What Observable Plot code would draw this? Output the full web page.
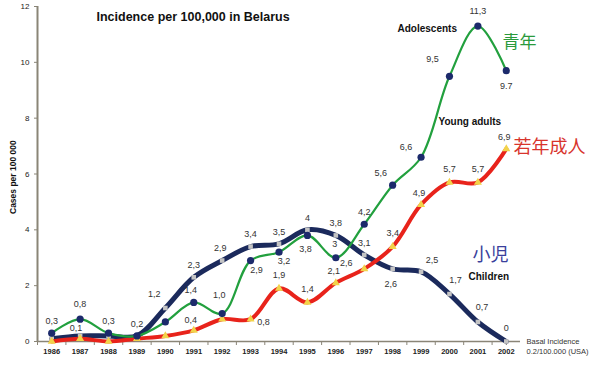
<!DOCTYPE html>
<html><head><meta charset="utf-8">
<script src="https://cdn.jsdelivr.net/npm/d3@7"></script>
<script src="https://cdn.jsdelivr.net/npm/@observablehq/plot@0.6"></script>
<style>
body{margin:0;background:#fff;}
#chart svg{display:block;font-family:"Liberation Sans",Arial,sans-serif;}
</style></head><body><div id="chart"></div>
<script>
// ---- data ----
const years = [1986,1987,1988,1989,1990,1991,1992,1993,1994,1995,1996,1997,1998,1999,2000,2001,2002];
const children    = [0.1,0.2,0.2,0.2,1.2,2.3,2.9,3.4,3.5,4.0,3.8,3.1,2.6,2.5,1.7,0.7,0.0];
const adolescents = [0.3,0.8,0.3,0.2,0.7,1.4,1.0,2.9,3.2,3.8,3.0,4.2,5.6,6.6,9.5,11.3,9.7];
const youngAdults = [0.0,0.1,0.0,0.1,0.2,0.4,0.8,0.8,1.9,1.4,2.1,2.6,3.4,4.9,5.7,5.7,6.9];
const childLabels = [null,null,null,null,"1,2","2,3","2,9","3,4","3,5","4","3,8","3,1","2,6","2,5","1,7","0,7","0"];
const adolLabels  = ["0,3","0,8","0,3","0,2",null,"1,4","1,0","2,9","3,2","3,8","3","4,2","5,6","6,6","9,5","11,3","9.7"];
const youngLabels = [null,"0,1",null,null,null,"0,4",null,"0,8","1,9","1,4","2,1","2,6","3,4","4,9","5,7","5,7","6,9"];
const yTicks = [0,2,4,6,8,10,12];
const title = "Incidence per 100,000 in Belarus";
const yLabel = "Cases per 100 000";

// ---- layout (label offsets in px, [dx, dy]) ----
const childOff = [null,null,null,null,[-11,-14],[0,-12],[-2,-12],[0,-12],[0,-12],[0,-12],[0,-12],[0,-12],[-2,15],[11,-12],[6,-14],[4,-15],[0,-13]];
const adolOff  = [[0,-12],[0,-15],[0,-12],[0,-12],null,[-3,-12],[-3,-18],[6,10],[5,9],[-2,14],[-1,-14],[0,-12],[-12,-12],[-15,-10],[-17,-17],[0,-15],[0,15]];
const youngOff = [null,[-4,-11],null,null,null,[-3,-10],null,[13,3],[0,-13],[0,-13],[-2,-12],[-18,-6],[0,-13],[-2,-12],[0,-13],[0,-13],[-2,-12]];

const table = (vals, labels) => years.map((year, i) => ({year, value: vals[i], label: labels[i], i}));
const cRows = table(children, childLabels);
const aRows = table(adolescents, adolLabels);
const yRows = table(youngAdults, youngLabels);

const labelMarks = (rows, offs) => rows.filter(d => d.label != null).map(d =>
  Plot.text([d], {x: "year", y: "value", text: "label", dx: offs[d.i][0], dy: offs[d.i][1],
    fontSize: 9, fill: "#333"}));

const ML = 37, MT = 6;
const note = (text, x, y, opts = {}) => Plot.text([text], {frameAnchor: "top-left", text: d => d,
  dx: x - ML, dy: y - MT, textAnchor: "start", lineAnchor: "middle", ...opts});

const AX = "#8a8577";
const plot = Plot.plot({
  width: 600, height: 368,
  marginLeft: ML, marginRight: 80, marginTop: MT, marginBottom: 27,
  x: {type: "linear", domain: [1985.5, 2002.5]},
  y: {domain: [0, 12]},
  marks: [
    Plot.axisY({ticks: yTicks, tickSize: 3, tickPadding: 5, label: null, fontSize: 8, stroke: AX, color: "#222"}),
    Plot.axisX({ticks: years, tickSize: 0, tickPadding: 7, tickFormat: d => String(d), label: null, fontSize: 7.5, fontWeight: "bold", color: "#222"}),
    Plot.axisX({ticks: years.concat([2002.5]).map(y => y - 0.5), tickSize: 4, tickFormat: () => "", label: null, stroke: AX}),
    Plot.ruleX([1985.5], {stroke: AX, strokeWidth: 2}),
    Plot.ruleY([0], {stroke: AX, strokeWidth: 1.5}),
    // children
    Plot.line(cRows, {x: "year", y: "value", stroke: "#1b2a5c", strokeWidth: 5, curve: "catmull-rom"}),
    Plot.dot(cRows, {x: "year", y: "value", symbol: "square", r: 2.6, fill: "#c4c4c4", stroke: "none"}),
    // young adults
    Plot.line(yRows, {x: "year", y: "value", stroke: "#e8231b", strokeWidth: 4, curve: "catmull-rom"}),
    Plot.dot(yRows, {x: "year", y: "value", symbol: "triangle", r: 3, fill: "#f2d34a", stroke: "none"}),
    // adolescents
    Plot.line(aRows, {x: "year", y: "value", stroke: "#22a03e", strokeWidth: 2.2, curve: "catmull-rom"}),
    Plot.dot(aRows, {x: "year", y: "value", r: 3.6, fill: "#1c2a6b", stroke: "none"}),
    ...labelMarks(cRows, childOff),
    ...labelMarks(aRows, adolOff),
    ...labelMarks(yRows, youngOff),
    // annotations
    note(title, 96, 16, {fontSize: 12.5, fontWeight: "bold", fill: "#111"}),
    note("Adolescents", 397, 28, {fontSize: 10, fontWeight: "bold", fill: "#111"}),
    note("青年", 502, 42, {fontSize: 17, fill: "#2a9a3c", fontFamily: "Noto Sans CJK JP"}),
    note("Young adults", 438, 121, {fontSize: 10, fontWeight: "bold", fill: "#111"}),
    note("若年成人", 513, 147, {fontSize: 18, fill: "#d8342c", fontFamily: "Noto Sans CJK JP"}),
    note("小児", 472, 255, {fontSize: 18, fill: "#3a3f9c", fontFamily: "Noto Sans CJK JP"}),
    note("Children", 468, 276, {fontSize: 10, fontWeight: "bold", fill: "#111"}),
    note("Basal Incidence", 526, 341, {fontSize: 7.5, fill: "#333"}),
    note("0.2/100.000 (USA)", 526, 351, {fontSize: 7.5, fill: "#333"}),
    Plot.text([yLabel], {frameAnchor: "left", text: d => d, rotate: -90, dx: -24, dy: 40, fontSize: 8.5, fontWeight: "bold", fill: "#111"})
  ]
});
document.getElementById("chart").appendChild(plot);
</script></body></html>
